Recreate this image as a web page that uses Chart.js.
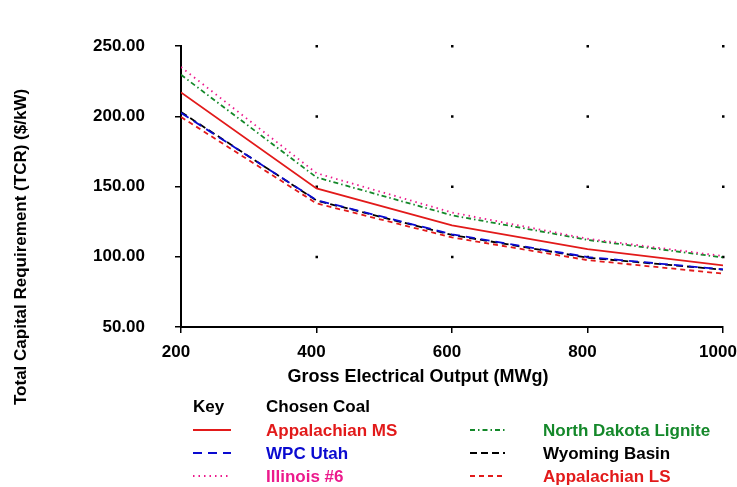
<!DOCTYPE html>
<html>
<head>
<meta charset="utf-8">
<script src="https://cdn.jsdelivr.net/npm/chart.js@4"></script>
<style>
  html, body { margin: 0; padding: 0; background: #fff; }
  #wrap { width: 737px; height: 487px; }
</style>
</head>
<body>
<div id="wrap"><canvas id="coalChart" width="737" height="487"></canvas></div>
<script>
// gross output (MWg)
const outputs = [200, 400, 600, 800, 1000]
const xTicks = [200, 400, 600, 800, 1000]
const yTicks = [50, 100, 150, 200, 250]

// total capital requirement ($/kW)
const appalachianMS = [217.0, 148.6, 122.3, 105.5, 93.8]
const wpcUtah       = [202.4, 140.3, 116.0, 99.8, 91.0]
const illinois6     = [235.0, 159.5, 131.5, 112.8, 100.5]
const ndLignite     = [229.5, 156.5, 129.5, 112.0, 99.5]
const wyomingBasin  = [203.0, 140.0, 115.5, 99.3, 90.8]
const appalachianLS = [199.5, 138.0, 113.8, 97.6, 88.0]

const xTitleText = 'Gross Electrical Output (MWg)'
const yTitleText = 'Total Capital Requirement (TCR) ($/kW)'

const FONT = 'Liberation Sans, Arial, sans-serif'

function serie(label, values, color, dash) {
    return {
        label: label,
        data: outputs.map((x, i) => ({ x: x, y: values[i] })),
        borderColor: color,
        backgroundColor: color,
        borderWidth: 1.8,
        borderDash: dash,
        pointRadius: 0,
        tension: 0,
        fill: false,
    }
}

// little black dots at every grid crossing
const gridDots = {
    id: 'gridDots',
    beforeDatasetsDraw(chart) {
        const { ctx, scales: { x, y } } = chart
        ctx.save()
        ctx.fillStyle = '#000'
        xTicks.slice(1).forEach(xv => {
            yTicks.slice(1).forEach(yv => {
                ctx.fillRect(x.getPixelForValue(xv) - 1, y.getPixelForValue(yv) - 1, 2.5, 2.5)
            })
        })
        ctx.restore()
    }
}

// axis titles (the original puts them off-centre)
const axisTitles = {
    id: 'axisTitles',
    afterDraw(chart) {
        const ctx = chart.ctx
        ctx.save()
        ctx.fillStyle = '#000'
        ctx.font = 'bold 18px ' + FONT
        ctx.textAlign = 'center'
        ctx.textBaseline = 'middle'
        ctx.fillText(xTitleText, 418, 377)

        ctx.translate(21, 405)
        ctx.rotate(-Math.PI / 2)
        ctx.font = 'bold 17px ' + FONT
        ctx.textAlign = 'left'
        ctx.fillText(yTitleText, 0, 0)
        ctx.restore()
    }
}

// key under the chart: two columns of three
const keyLegend = {
    id: 'keyLegend',
    afterDraw(chart) {
        const ctx = chart.ctx
        const sets = chart.data.datasets
        ctx.save()
        ctx.font = 'bold 17px ' + FONT
        ctx.textBaseline = 'middle'
        ctx.textAlign = 'left'
        ctx.fillStyle = '#000'
        ctx.fillText('Key', 193, 407)
        ctx.fillText('Chosen Coal', 266, 407)
        const cols = [{ x0: 193, x1: 231, tx: 266 }, { x0: 470, x1: 505, tx: 543 }]
        const rows = [430, 453, 476]
        sets.forEach((ds, i) => {
            const c = cols[Math.floor(i / 3)]
            const y = rows[i % 3]
            ctx.strokeStyle = ds.borderColor
            ctx.lineWidth = 1.8
            ctx.setLineDash(ds.borderDash || [])
            ctx.beginPath()
            ctx.moveTo(c.x0, y)
            ctx.lineTo(c.x1, y)
            ctx.stroke()
            ctx.setLineDash([])
            ctx.fillStyle = ds.borderColor
            ctx.fillText(ds.label, c.tx, y + 1)
        })
        ctx.restore()
    }
}

new Chart(document.getElementById('coalChart'), {
    type: 'line',
    data: {
        datasets: [
            serie('Appalachian MS', appalachianMS, '#e21a1a', []),
            serie('WPC Utah', wpcUtah, '#0a0ad0', [9, 6]),
            serie('Illinois #6', illinois6, '#ec1a8c', [1.5, 4]),
            serie('North Dakota Lignite', ndLignite, '#14882a', [5, 3, 1.5, 3]),
            serie('Wyoming Basin', wyomingBasin, '#000000', [7, 4]),
            serie('Appalachian LS', appalachianLS, '#e21a1a', [5, 4]),
        ]
    },
    options: {
        responsive: false,
        animation: false,
        layout: { padding: { top: 46, right: 14, bottom: 100, left: 0 } },
        plugins: {
            legend: { display: false },
            tooltip: { enabled: false },
        },
        scales: {
            x: {
                type: 'linear',
                min: 200,
                max: 1000,
                afterBuildTicks: axis => { axis.ticks = xTicks.map(v => ({ value: v })) },
                afterFit: axis => {
                    axis.height = 60
                    axis.paddingLeft = 0
                    axis.paddingRight = 0
                },
                grid: { drawOnChartArea: false, drawTicks: true, tickLength: 6, color: '#000', lineWidth: 1.5 },
                border: { color: '#000', width: 2 },
                ticks: {
                    color: '#000',
                    padding: 9,
                    labelOffset: -5,
                    font: { family: FONT, size: 17, weight: 'bold' },
                    callback: v => String(v)
                }
            },
            y: {
                min: 50,
                max: 250,
                afterBuildTicks: axis => { axis.ticks = yTicks.map(v => ({ value: v })) },
                afterFit: axis => {
                    axis.width = 181
                    axis.paddingTop = 0
                    axis.paddingBottom = 0
                },
                grid: { drawOnChartArea: false, drawTicks: true, tickLength: 6, color: '#000', lineWidth: 1.5 },
                border: { color: '#000', width: 2 },
                ticks: {
                    color: '#000',
                    padding: 30,
                    font: { family: FONT, size: 17, weight: 'bold' },
                    callback: v => v.toFixed(2)
                }
            }
        }
    },
    plugins: [gridDots, axisTitles, keyLegend]
})
</script>
</body>
</html>
